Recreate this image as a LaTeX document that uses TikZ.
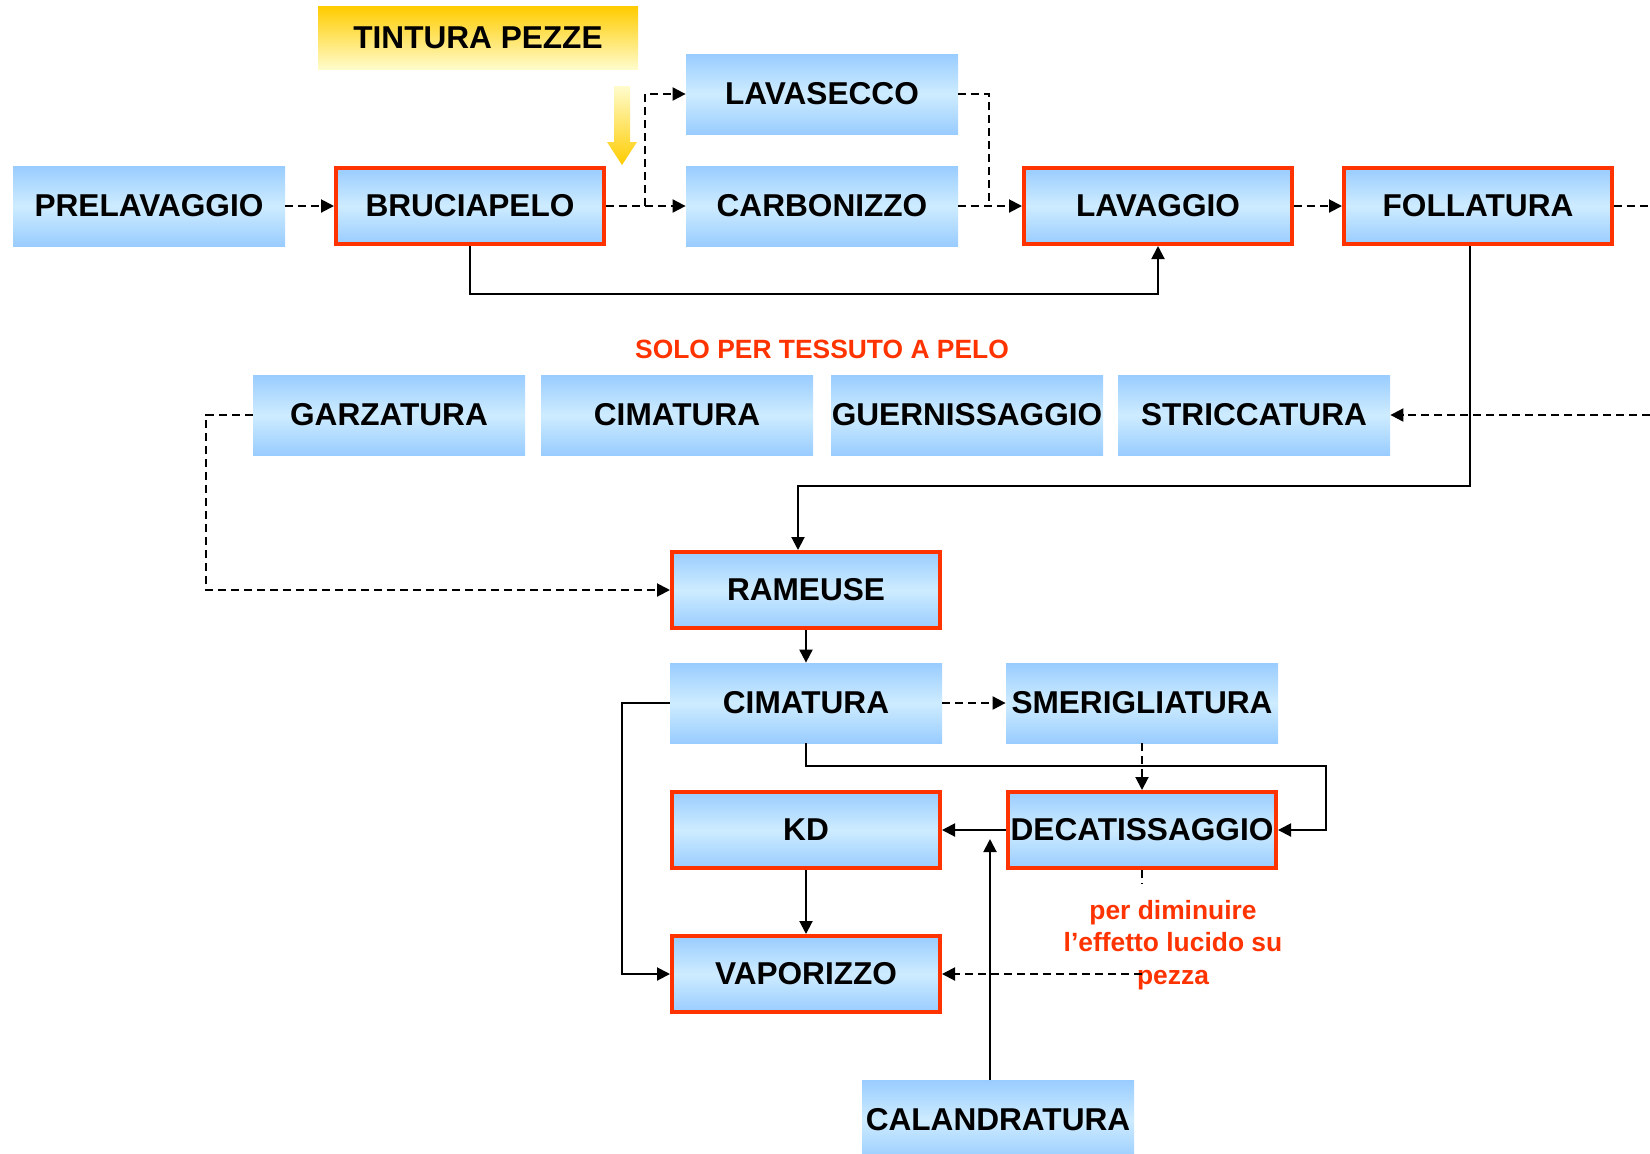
\documentclass[tikz,border=0pt]{standalone}
\usepackage{fontspec}
\setmainfont{Liberation Sans}
\usepackage{xcolor}
\usepackage{tikz}
\usetikzlibrary{positioning,arrows.meta}

\definecolor{boxblue}{RGB}{153,204,255}
\definecolor{boxlight}{RGB}{206,236,255}
\definecolor{redline}{RGB}{255,51,0}
\definecolor{goldtop}{RGB}{255,204,0}
\definecolor{goldlight}{RGB}{255,252,205}

\begin{document}
\begin{tikzpicture}[x=0.5pt, y=-0.5pt,
  bluenode/.style={rectangle, top color=boxblue, bottom color=boxblue, middle color=boxlight, minimum width=136pt, minimum height=40pt, inner sep=0pt, font=\fontsize{15.8}{19}\selectfont\bfseries},
  rednode/.style={bluenode, draw=redline, line width=2pt, minimum width=134pt, minimum height=38pt},
  goldnode/.style={rectangle, top color=goldtop, bottom color=goldlight, minimum width=160pt, minimum height=31.5pt, inner sep=0pt, font=\fontsize{15.8}{19}\selectfont\bfseries},
  rednote/.style={text=redline, align=center, inner sep=0pt, font=\fontsize{13.2}{16.3}\selectfont\bfseries},
  solidline/.style={line width=1pt},
  dashline/.style={solidline, dash pattern=on 4pt off 2.5pt},
  solidarrow/.style={solidline, -{Triangle[length=6.5pt,width=6.5pt]}},
  dasharrow/.style={dashline, -{Triangle[length=6.5pt,width=6.5pt]}}]

\useasboundingbox (0,0) rectangle (1650,1153);

% top row
\node[goldnode] (tintura) at (478, 38) {TINTURA PEZZE};
\node[bluenode] (prelav) at (149, 206) {PRELAVAGGIO};
\node[rednode] (brucia) at (470, 206) {BRUCIAPELO};
\node[bluenode] (lavasec) at (822, 94) {LAVASECCO};
\node[bluenode] (carbon) at (822, 206) {CARBONIZZO};
\node[rednode] (lavag) at (1158, 206) {LAVAGGIO};
\node[rednode] (follat) at (1478, 206) {FOLLATURA};

% yellow arrow below the dyeing box
\shade[top color=goldlight, bottom color=goldtop] (614,86) -- (630,86) -- (630,142) -- (637,142) -- (622,165) -- (607,142) -- (614,142) -- cycle;

% pile-fabric row
\node[rednote] (solonote) at (822, 349) {SOLO PER TESSUTO A PELO};
\node[bluenode] (garzat) at (389, 415) {GARZATURA};
\node[bluenode] (cimat) at (677, 415) {CIMATURA};
\node[bluenode] (guern) at (967, 415) {GUERNISSAGGIO};
\node[bluenode] (striccat) at (1254, 415) {STRICCATURA};

% finishing
\node[rednode] (rameuse) at (806, 590) {RAMEUSE};
\node[bluenode] (cimatb) at (806, 703) {CIMATURA};
\node[bluenode] (smerig) at (1142, 703) {SMERIGLIATURA};
\node[rednode] (kd) at (806, 830) {KD};
\node[rednode] (decat) at (1142, 830) {DECATISSAGGIO};
\node[rednode] (vapor) at (806, 974) {VAPORIZZO};
\node[bluenode] (calandr) at (998, 1120) {CALANDRATURA};
\node[rednote] (effnote) at (1173, 945) {per diminuire\\l’effetto lucido su\\pezza};

% bend points
\coordinate (brsplit) at (645, 206);
\coordinate (lvjoin) at (989, 206);
\coordinate (follout) at (1650, 206);
\coordinate (bruloop) at (470, 294);
\coordinate (strin) at (1650, 415);
\coordinate (follbend) at (1470, 486);
\coordinate (ramin) at (798, 486);
\coordinate (garzdrop) at (206, 590);
\coordinate (cimdown) at (806, 766);
\coordinate (cimright) at (1326, 766);
\coordinate (cimleft) at (622, 974);
\coordinate (decstub) at (1142, 884);
\coordinate (vapdash) at (1142, 974);
\coordinate (calfoot) at (990, 1080);
\coordinate (caltop) at (990, 839);

% connectors
\draw[dasharrow] (prelav) -- (brucia);
\draw[dasharrow] (brucia) -- (carbon);
\draw[dasharrow] (brsplit) |- (lavasec.west);
\draw[dashline] (lavasec.east) -| (lvjoin);
\draw[dasharrow] (carbon) -- (lavag);
\draw[dasharrow] (lavag) -- (follat);
\draw[dashline] (follat) -- (follout);
\draw[solidarrow] (brucia.south) -- (bruloop) -| (lavag.south);
\draw[dasharrow] (strin) -- (striccat.east);
\draw[solidarrow] (follbend |- follat.south) -- (follbend) -- (ramin) -- (ramin |- rameuse.north);
\draw[dasharrow] (garzat.west) -| (garzdrop) -- (rameuse.west);
\draw[solidarrow] (rameuse) -- (cimatb);
\draw[dasharrow] (cimatb) -- (smerig);
\draw[dasharrow] (smerig) -- (decat);
\draw[solidarrow] (cimatb.south) -- (cimdown) -- (cimright) |- (decat.east);
\draw[solidarrow] (decat) -- (kd);
\draw[solidarrow] (cimatb.west) -| (cimleft) -- (vapor.west);
\draw[solidarrow] (kd) -- (vapor);
\draw[dashline] (decat.south) -- (decstub);
\draw[dasharrow] (vapdash) -- (vapor.east);
\draw[solidarrow] (calfoot) -- (caltop);

\end{tikzpicture}
\end{document}
